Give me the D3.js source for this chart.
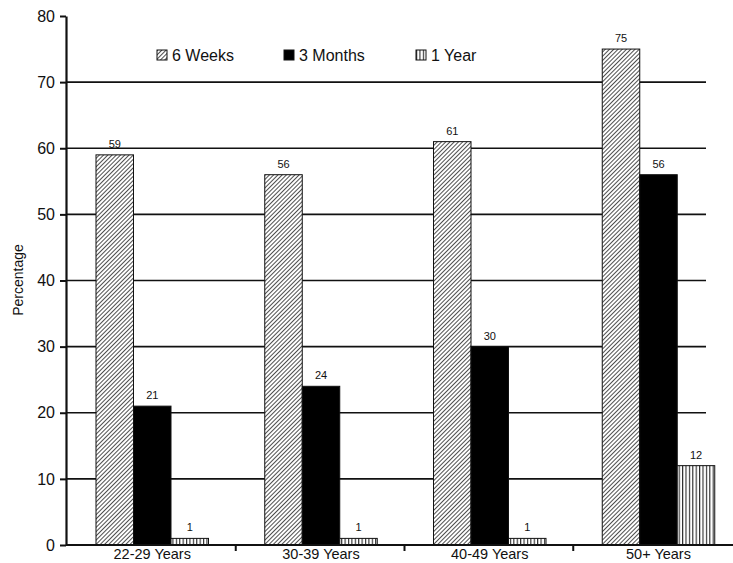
<!DOCTYPE html>
<html>
<head>
<meta charset="utf-8">
<script src="https://cdn.jsdelivr.net/npm/d3@7"></script>
<style>
  body { margin: 0; background: #fff; }
  text { font-family: "Liberation Sans", Arial, sans-serif; fill: #111; }
</style>
</head>
<body>
<svg id="svg" width="733" height="563"></svg>
<script>
const categories = ["22-29 Years", "30-39 Years", "40-49 Years", "50+ Years"];
const seriesNames = ["6 Weeks", "3 Months", "1 Year"];
const weeks6 = [59, 56, 61, 75];
const months3 = [21, 24, 30, 56];
const year1 = [1, 1, 1, 12];
const yTicks = [0, 10, 20, 30, 40, 50, 60, 70, 80];
const gridTicks = [10, 20, 30, 40, 50, 60, 70];

const svg = d3.select("#svg");
const fills = ["url(#diag)", "#000", "url(#vert)"];

// patterns
const defs = svg.append("defs");
const diag = defs.append("pattern").attr("id", "diag").attr("patternUnits", "userSpaceOnUse")
  .attr("width", 3).attr("height", 3).attr("patternTransform", "rotate(45)");
diag.append("rect").attr("width", 3).attr("height", 3).attr("fill", "#fff");
diag.append("line").attr("x1", 0).attr("y1", 0).attr("x2", 0).attr("y2", 3)
  .attr("stroke", "#222").attr("stroke-width", 1.6);
const vert = defs.append("pattern").attr("id", "vert").attr("patternUnits", "userSpaceOnUse")
  .attr("width", 3.4).attr("height", 10);
vert.append("rect").attr("width", 3.4).attr("height", 10).attr("fill", "#fff");
vert.append("line").attr("x1", 0.6).attr("y1", 0).attr("x2", 0.6).attr("y2", 10)
  .attr("stroke", "#111").attr("stroke-width", 1);

const y = d3.scaleLinear().domain([0, 80]).range([545, 16]);
const x0 = d3.scaleBand().domain(categories).range([67, 742]);
const x1 = d3.scaleBand().domain(seriesNames).range([29, 141.5]);

const rows = categories.map((c, i) => ({ cat: c, vals: [weeks6[i], months3[i], year1[i]] }));

// grid lines
svg.append("g").selectAll("line").data(gridTicks).join("line")
  .attr("x1", 66).attr("x2", 706)
  .attr("y1", d => y(d)).attr("y2", d => y(d))
  .attr("stroke", "#111").attr("stroke-width", 1.6);

// bars
const groups = svg.append("g").selectAll("g").data(rows).join("g")
  .attr("transform", d => `translate(${x0(d.cat)},0)`);
groups.selectAll("rect").data(d => d.vals.map((v, k) => ({ v, k }))).join("rect")
  .attr("x", d => x1(seriesNames[d.k]))
  .attr("width", x1.bandwidth())
  .attr("y", d => y(d.v))
  .attr("height", d => y(0) - y(d.v))
  .attr("fill", d => fills[d.k])
  .attr("stroke", "#111").attr("stroke-width", 1);
groups.selectAll("text").data(d => d.vals.map((v, k) => ({ v, k }))).join("text")
  .attr("x", d => x1(seriesNames[d.k]) + x1.bandwidth() / 2)
  .attr("y", d => y(d.v) - 7)
  .attr("text-anchor", "middle")
  .style("font-size", "11px")
  .text(d => d.v);

// y axis
const yAxis = svg.append("g").attr("transform", "translate(66,0)")
  .call(d3.axisLeft(y).tickValues(yTicks).tickSize(6).tickPadding(5).tickSizeOuter(0));
yAxis.select(".domain").attr("stroke", "#111").attr("stroke-width", 2.2);
yAxis.selectAll(".tick line").attr("stroke", "#111").attr("stroke-width", 2);
yAxis.selectAll("text").style("font-size", "16px").attr("fill", "#111");

// x axis
const xAxis = svg.append("g").attr("transform", `translate(0,${y(0)})`);
xAxis.append("line").attr("x1", 66).attr("x2", 733).attr("stroke", "#111").attr("stroke-width", 2.2);
xAxis.selectAll(".tk").data(categories.slice(1)).join("line").attr("class", "tk")
  .attr("x1", d => x0(d)).attr("x2", d => x0(d)).attr("y1", 0).attr("y2", 6)
  .attr("stroke", "#111").attr("stroke-width", 2);
xAxis.selectAll("text").data(categories).join("text")
  .attr("x", d => x0(d) + 29 + 112.5 / 2)
  .attr("y", 14)
  .attr("text-anchor", "middle")
  .style("font-size", "14.5px")
  .text(d => d);

// y title
svg.append("text").attr("transform", "translate(23,280) rotate(-90)")
  .attr("text-anchor", "middle").style("font-size", "14px").text("Percentage");

// legend
const legendX = [157, 284, 416];
const leg = svg.append("g").selectAll("g").data(seriesNames).join("g")
  .attr("transform", (d, i) => `translate(${legendX[i]},50)`);
leg.append("rect").attr("width", 10).attr("height", 10)
  .attr("fill", (d, i) => fills[i]).attr("stroke", "#111").attr("stroke-width", 1);
leg.append("text").attr("x", 15).attr("y", 11).style("font-size", "16px").text(d => d);
</script>
</body>
</html>
